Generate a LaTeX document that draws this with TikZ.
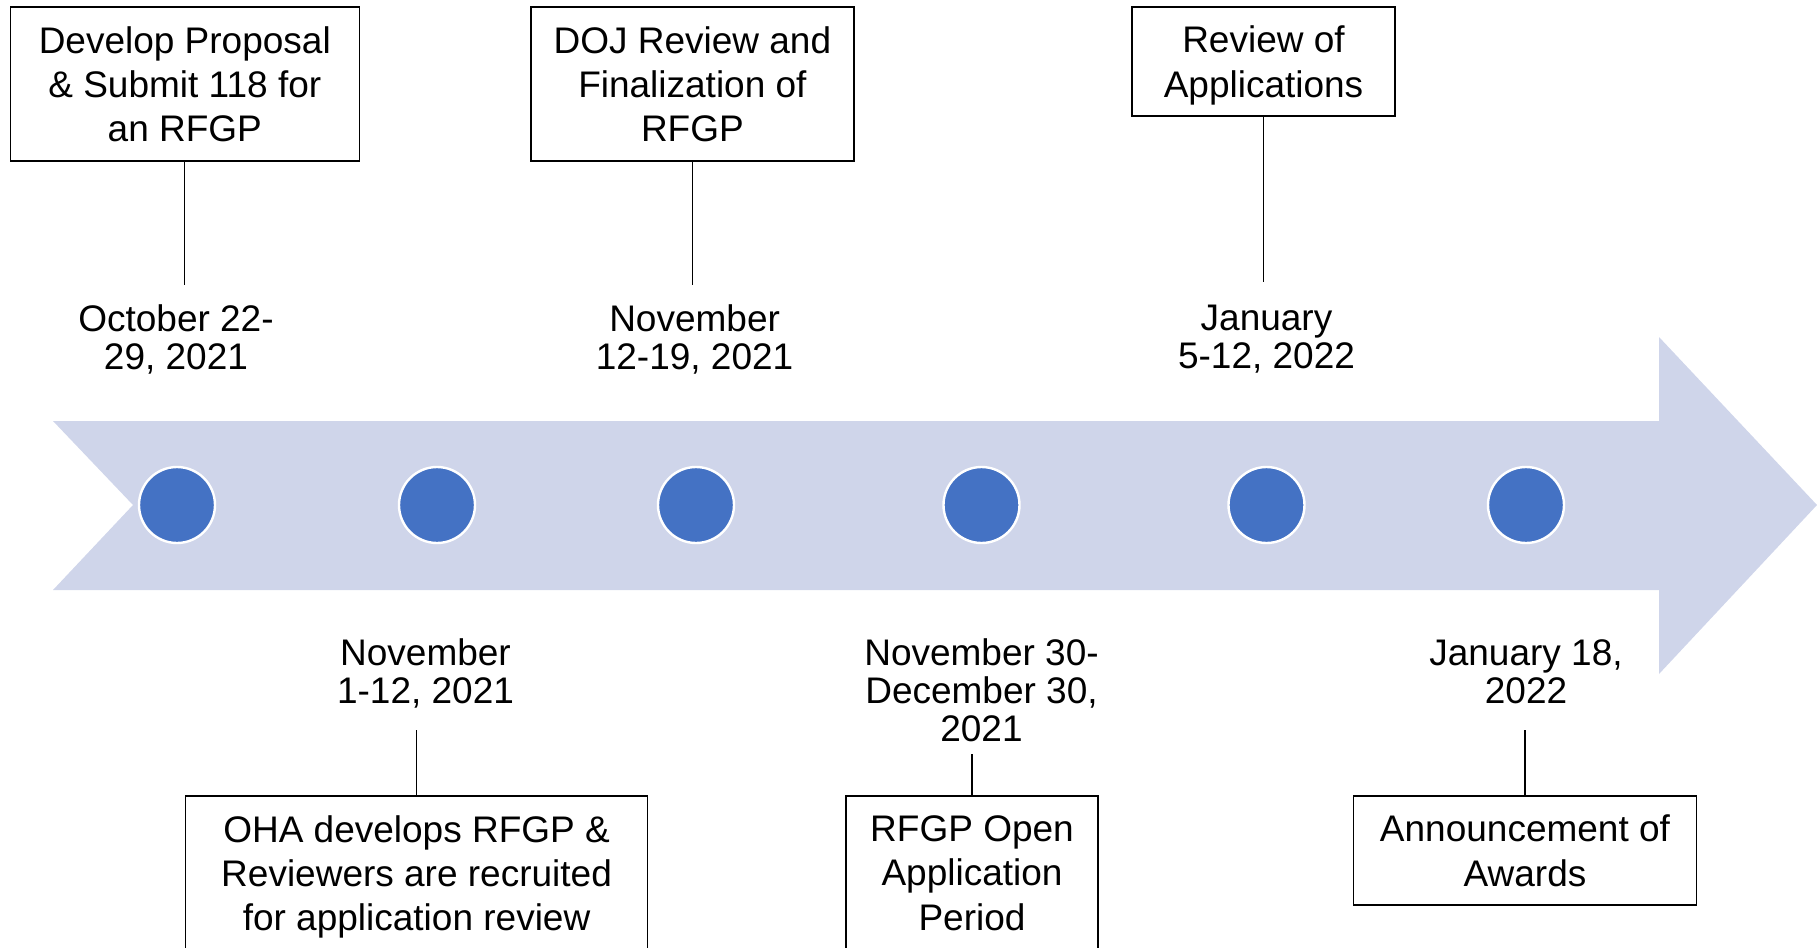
\documentclass[tikz,border=0pt]{standalone}
\usepackage{fontspec}
\setmainfont{Liberation Sans}
\definecolor{bandblue}{HTML}{CFD5EA}
\definecolor{dotblue}{HTML}{4472C4}
\tikzset{
  stepbox/.style={draw=black, line width=0.8pt, align=center, inner sep=0pt, text depth=0pt, font=\fontsize{18.5}{22.2}\selectfont},
  datetext/.style={align=center, inner sep=0pt, font=\fontsize{18.5}{19}\selectfont},
  milestone/.style={circle, fill=dotblue, draw=white, line width=1.2pt, minimum size=38pt, inner sep=0pt},
  stemline/.style={black, line width=0.6pt}
}

\begin{document}
\begin{tikzpicture}[x=0.5pt,y=-0.5pt]
\useasboundingbox (0,0) rectangle (1817,948);
\fill[bandblue] (53,421) -- (1659,421) -- (1659,337) -- (1817,505) -- (1659,674) -- (1659,590) -- (53,590) -- (133,505) -- cycle;

\node[milestone] (m1) at (177,505) {};
\node[milestone] (m2) at (437,505) {};
\node[milestone] (m3) at (696,505) {};
\node[milestone] (m4) at (981.5,505) {};
\node[milestone] (m5) at (1266.5,505) {};
\node[milestone] (m6) at (1526,505) {};

\node[stepbox,minimum width=174.5pt,minimum height=77pt] (b1) at (184.8,84) {Develop Proposal\\\& Submit 118 for\\an RFGP};
\node[stepbox,minimum width=161.5pt,minimum height=77pt] (b2) at (692.4,84) {DOJ Review and\\Finalization of\\RFGP};
\node[stepbox,minimum width=131.5pt,minimum height=54.5pt] (b3) at (1263.5,61.5) {Review of\\Applications};
\node[stepbox,minimum width=231pt,minimum height=77pt] (b4) at (416.6,873) {OHA develops RFGP \&\\Reviewers are recruited\\for application review};
\node[stepbox,minimum width=126pt,minimum height=77pt] (b5) at (972,873) {RFGP Open\\Application\\Period};
\node[stepbox,minimum width=171.5pt,minimum height=54.5pt] (b6) at (1525,850.5) {Announcement of\\Awards};

\node[datetext] (t1) at (176,339.2) {October 22-\\29, 2021};
\node[datetext] (t2) at (694.6,339.2) {November\\12-19, 2021};
\node[datetext] (t3) at (1266.5,339.2) {January\\5-12, 2022};
\node[datetext] (t4) at (425.5,673.3) {November\\1-12, 2021};
\node[datetext] (t5) at (981.5,690.6) {November 30-\\December 30,\\2021};
\node[datetext] (t6) at (1526,672.2) {January 18,\\2022};

\coordinate (e1) at (184.8,285);
\coordinate (e2) at (692.4,285);
\coordinate (e3) at (1263.5,281.6);
\coordinate (e4) at (416.6,730);
\coordinate (e5) at (972,754);
\coordinate (e6) at (1525,730);
\draw[stemline] (b1.south) -- (e1);
\draw[stemline] (b2.south) -- (e2);
\draw[stemline] (b3.south) -- (e3);
\draw[stemline] (b4.north) -- (e4);
\draw[stemline] (b5.north) -- (e5);
\draw[stemline] (b6.north) -- (e6);
\end{tikzpicture}
\end{document}
